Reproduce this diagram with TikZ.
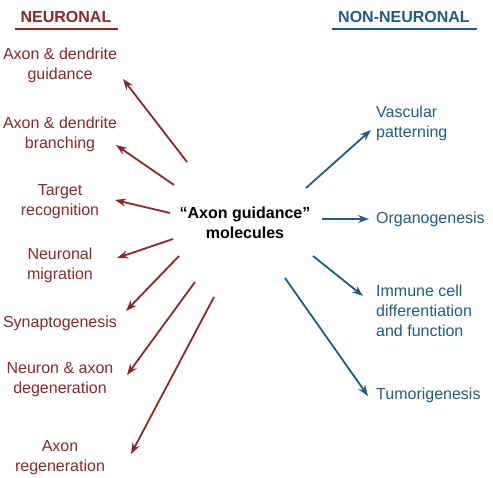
\documentclass[tikz,border=0pt]{standalone}
\usepackage{fontspec}
\setmainfont{Liberation Sans}
\usetikzlibrary{arrows.meta}
\definecolor{nred}{RGB}{140,40,42}
\definecolor{nblue}{RGB}{28,94,132}
\begin{document}
\begin{tikzpicture}[x=1pt,y=-1pt,
  lab/.style={font=\fontsize{16}{20}\selectfont, align=center, inner sep=0pt},
  redlab/.style={lab, text=nred},
  bluelab/.style={lab, text=nblue, align=left, anchor=west},
  head/.style={font=\fontsize{16}{20}\selectfont\bfseries, inner sep=0pt},
  redarr/.style={draw=nred, line width=1.8pt, -{Stealth[length=11pt,width=8pt]}},
  bluearr/.style={draw=nblue, line width=1.8pt, -{Stealth[length=11pt,width=8pt]}},
  uline/.style={line width=1.6pt}]
\useasboundingbox (0,0) rectangle (493,478);
% headers
\node[head, text=nred] (hn) at (66,17) {NEURONAL};
\node[head, text=nblue] (hnn) at (404,17) {NON-NEURONAL};
\coordinate (u1a) at (15,29); \coordinate (u1b) at (118,29);
\coordinate (u2a) at (332,29); \coordinate (u2b) at (477,29);
\draw[nred, uline] (u1a) -- (u1b);
\draw[nblue, uline] (u2a) -- (u2b);
% centre
\node[lab, font=\fontsize{16}{20}\selectfont\bfseries] (c) at (245,223) {“Axon guidance”\\molecules};
% left labels
\node[redlab] (L1) at (60,65) {Axon \& dendrite\\guidance};
\node[redlab] (L2) at (60,134) {Axon \& dendrite\\branching};
\node[redlab] (L3) at (60,202) {Target\\recognition};
\node[redlab] (L4) at (60,265) {Neuronal\\migration};
\node[redlab] (L5) at (60,323) {Synaptogenesis};
\node[redlab] (L6) at (60,380) {Neuron \& axon\\degeneration};
\node[redlab] (L7) at (60,458) {Axon\\regeneration};
% right labels
\node[bluelab] (R1) at (376,123) {Vascular\\patterning};
\node[bluelab] (R2) at (376,219) {Organogenesis};
\node[bluelab] (R3) at (376,311) {Immune cell\\differentiation\\and function};
\node[bluelab] (R4) at (376,395) {Tumorigenesis};
% arrow ends
\coordinate (s1) at (187,162); \coordinate (e1) at (123,79);
\coordinate (s2) at (174,185); \coordinate (e2) at (116,145);
\coordinate (s3) at (170,213); \coordinate (e3) at (115,200);
\coordinate (s4) at (173,239); \coordinate (e4) at (117,258);
\coordinate (s5) at (179,256); \coordinate (e5) at (126,311);
\coordinate (s6) at (195,282); \coordinate (e6) at (127,375);
\coordinate (s7) at (214,297); \coordinate (e7) at (131,454);
\coordinate (t1) at (306,188); \coordinate (f1) at (371,130);
\coordinate (t2) at (322,219); \coordinate (f2) at (369,219);
\coordinate (t3) at (313,256); \coordinate (f3) at (363,296);
\coordinate (t4) at (285,278); \coordinate (f4) at (368,396);
\foreach \i in {1,...,7} \draw[redarr] (s\i) -- (e\i);
\foreach \i in {1,...,4} \draw[bluearr] (t\i) -- (f\i);
\end{tikzpicture}
\end{document}
